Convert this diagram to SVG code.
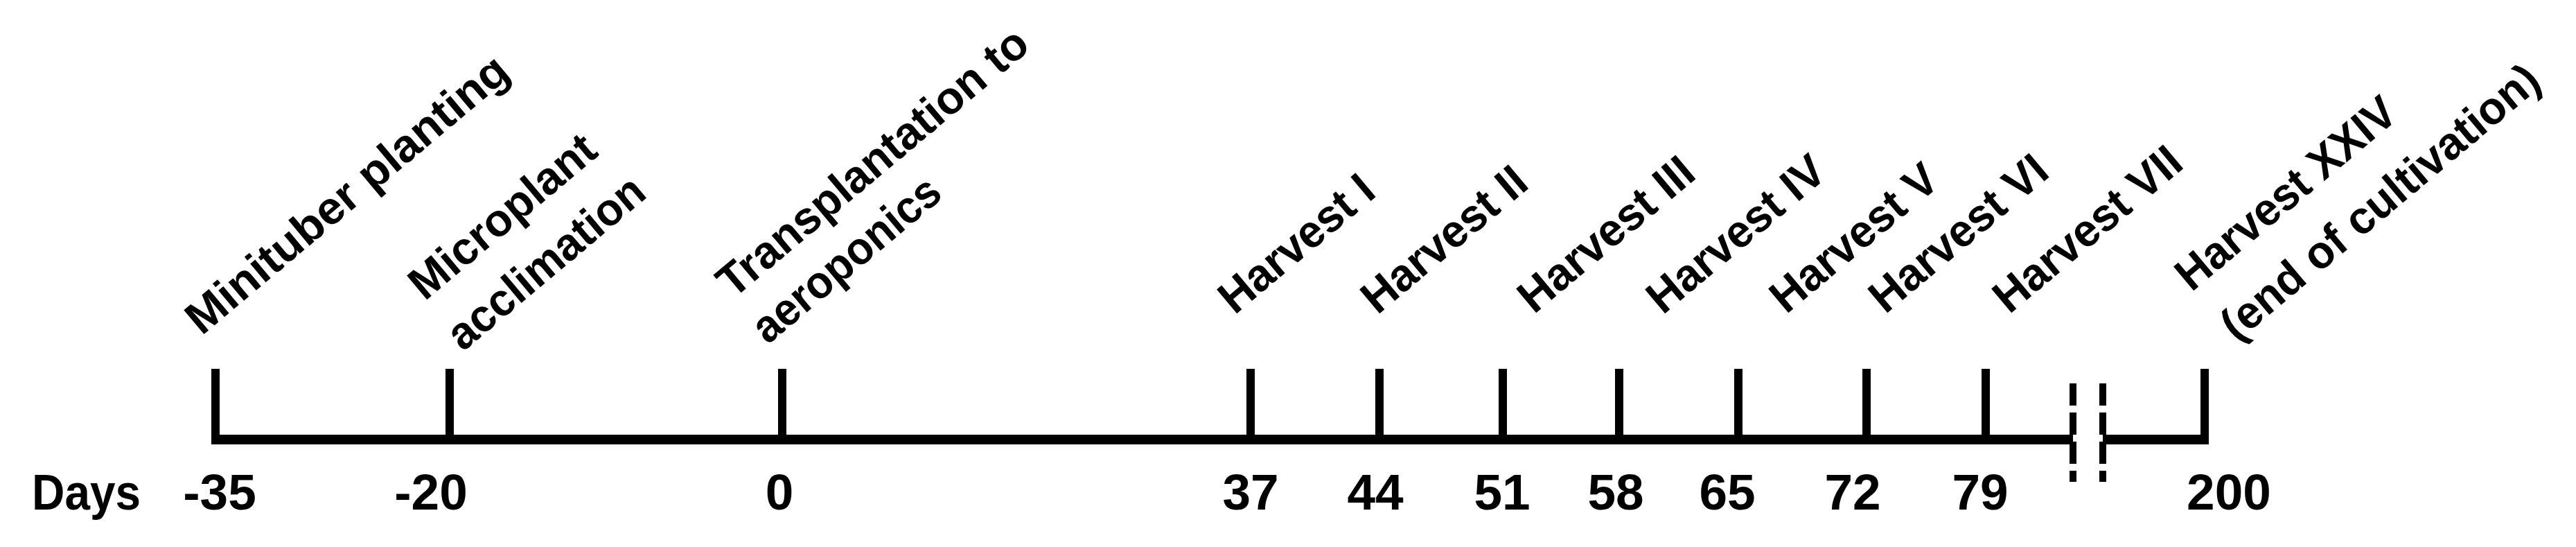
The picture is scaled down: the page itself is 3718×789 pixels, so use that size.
<svg xmlns="http://www.w3.org/2000/svg" width="3718" height="789" viewBox="0 0 3718 789">
<style>
.bg{fill:#fff}
.axis{stroke:#000;stroke-width:14;fill:none}
.tick{stroke:#000;stroke-width:12;fill:none}
.brk{stroke:#000;stroke-width:10;stroke-dasharray:32 10;fill:none}
.lbl{font-family:"Liberation Sans",Arial,sans-serif;font-weight:bold;font-size:66px;fill:#000}
.day{font-family:"Liberation Sans",Arial,sans-serif;font-weight:bold;font-size:73px;fill:#000;text-anchor:middle}
</style>
<rect class="bg" x="0" y="0" width="3718" height="789"/>
<g id="connectors">
<line class="axis" x1="305" y1="634" x2="2992" y2="634"/>
<line class="axis" x1="3035" y1="634" x2="3188" y2="634"/>
<line class="brk" x1="2992" y1="553" x2="2992" y2="695"/>
<line class="brk" x1="3035" y1="553" x2="3035" y2="695"/>
</g>
<g id="axis-title">
<text class="day" x="46" y="735" style="text-anchor:start" textLength="157" lengthAdjust="spacingAndGlyphs">Days</text>
</g>
<g id="ev-minus35">
<line class="tick" x1="311" y1="532" x2="311" y2="634"/>
<text class="day" x="317" y="735">-35</text>
<text class="lbl" transform="translate(291,485) rotate(-40)" textLength="585" lengthAdjust="spacingAndGlyphs">Minituber planting</text>
</g>
<g id="ev-minus20">
<line class="tick" x1="649" y1="532" x2="649" y2="634"/>
<text class="day" x="622" y="735">-20</text>
<text class="lbl" transform="translate(613,435) rotate(-40)" textLength="330" lengthAdjust="spacingAndGlyphs">Microplant</text>
<text class="lbl" transform="translate(668,508) rotate(-40)" textLength="350" lengthAdjust="spacingAndGlyphs">acclimation</text>
</g>
<g id="ev-0">
<line class="tick" x1="1129" y1="532" x2="1129" y2="634"/>
<text class="day" x="1125" y="735">0</text>
<text class="lbl" transform="translate(1058,432) rotate(-40)" textLength="563" lengthAdjust="spacingAndGlyphs">Transplantation to</text>
<text class="lbl" transform="translate(1108,498) rotate(-40)" textLength="333" lengthAdjust="spacingAndGlyphs">aeroponics</text>
</g>
<g id="ev-37">
<line class="tick" x1="1805" y1="532" x2="1805" y2="634"/>
<text class="day" x="1805" y="735">37</text>
<text class="lbl" transform="translate(1782,455) rotate(-40)" textLength="270" lengthAdjust="spacingAndGlyphs">Harvest I</text>
</g>
<g id="ev-44">
<line class="tick" x1="1991" y1="532" x2="1991" y2="634"/>
<text class="day" x="1985" y="735">44</text>
<text class="lbl" transform="translate(1988,455) rotate(-40)" textLength="289" lengthAdjust="spacingAndGlyphs">Harvest II</text>
</g>
<g id="ev-51">
<line class="tick" x1="2169" y1="532" x2="2169" y2="634"/>
<text class="day" x="2168" y="735">51</text>
<text class="lbl" transform="translate(2214,454) rotate(-40)" textLength="309" lengthAdjust="spacingAndGlyphs">Harvest III</text>
</g>
<g id="ev-58">
<line class="tick" x1="2337" y1="532" x2="2337" y2="634"/>
<text class="day" x="2332" y="735">58</text>
<text class="lbl" transform="translate(2400,455) rotate(-40)" textLength="313" lengthAdjust="spacingAndGlyphs">Harvest IV</text>
</g>
<g id="ev-65">
<line class="tick" x1="2509" y1="532" x2="2509" y2="634"/>
<text class="day" x="2493" y="735">65</text>
<text class="lbl" transform="translate(2578,454) rotate(-40)" textLength="293" lengthAdjust="spacingAndGlyphs">Harvest V</text>
</g>
<g id="ev-72">
<line class="tick" x1="2694" y1="532" x2="2694" y2="634"/>
<text class="day" x="2674" y="735">72</text>
<text class="lbl" transform="translate(2721,454) rotate(-40)" textLength="313" lengthAdjust="spacingAndGlyphs">Harvest VI</text>
</g>
<g id="ev-79">
<line class="tick" x1="2866" y1="532" x2="2866" y2="634"/>
<text class="day" x="2858" y="735">79</text>
<text class="lbl" transform="translate(2900,454) rotate(-40)" textLength="332" lengthAdjust="spacingAndGlyphs">Harvest VII</text>
</g>
<g id="ev-200">
<line class="tick" x1="3182" y1="532" x2="3182" y2="641"/>
<text class="day" x="3217" y="735">200</text>
<text class="lbl" transform="translate(3163,422) rotate(-40)" textLength="393" lengthAdjust="spacingAndGlyphs">Harvest XXIV</text>
<text class="lbl" transform="translate(3228,494) rotate(-40)" textLength="578" lengthAdjust="spacingAndGlyphs">(end of cultivation)</text>
</g>
</svg>
